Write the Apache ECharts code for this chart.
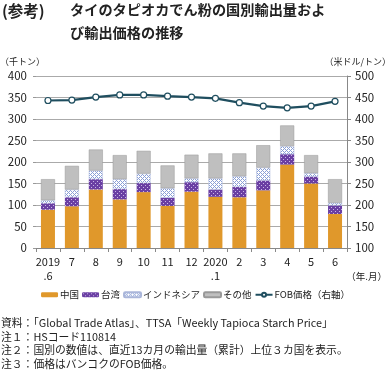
<!DOCTYPE html>
<html><head><meta charset="utf-8">
<script src="https://cdn.jsdelivr.net/npm/echarts@6/dist/echarts.min.js"></script>
<style>html,body{margin:0;padding:0;background:#fff}#c{width:391px;height:370px}</style>
</head><body><div id="c"></div>
<script>
const categories = ['2019\n.6','7','8','9','10','11','12','2020\n.1','2','3','4','5','6'];
const china = [89,97,136,113,130,98,131,119,118,134,194,150,79];
const taiwan = [15,21,24,24,21,19,22,17,24,23,24,16,20];
const indonesia = [7,18,20,23,22,22,9,26,25,30,19,8,6];
const other = [49,55,49,56,53,53,55,58,53,52,48,42,55];
const fobPrice = [443,444,451,456,456,453,451,448,438,430,426,430,441];

function dotPattern(){
  const c=document.createElement('canvas');c.width=4;c.height=4;
  const g=c.getContext('2d');g.fillStyle='#6a3fa3';g.fillRect(0,0,4,4);
  g.fillStyle='#c9b6e6';g.fillRect(1,1,1,1);g.fillRect(3,3,1,1);
  return c;
}
function hatchPattern(){
  const c=document.createElement('canvas');c.width=4;c.height=4;
  const g=c.getContext('2d');g.fillStyle='#ffffff';g.fillRect(0,0,4,4);
  g.fillStyle='#8a9fd6';
  g.fillRect(0,0,1,1);g.fillRect(1,1,1,1);g.fillRect(2,2,1,1);g.fillRect(3,3,1,1);
  g.fillRect(3,1,1,1);g.fillRect(1,3,1,1);
  return c;
}
const chart = echarts.init(document.getElementById('c'), null, {renderer:'canvas'});
const font = '"Noto Sans CJK JP","Noto Sans",sans-serif';
const barW = 14;
function t(text, pos, size, weight, extra){
  return Object.assign({text:text, padding:0, textStyle:Object.assign({fontSize:size, fontWeight:weight||'normal', color:'#222', fontFamily:font}, extra||{})}, pos);
}
chart.setOption({
  animation:false,
  textStyle:{fontFamily:font},
  title:[
    t('(参考)', {left:2, top:3}, 15.5, 'bold'),
    t('タイのタピオカでん粉の国別輸出量およ', {left:70, top:3}, 14.2, 'bold'),
    t('び輸出価格の推移', {left:70, top:26}, 14.2, 'bold'),
    t('（千トン）', {left:0, top:57}, 9),
    t('（米ドル/トン）', {right:0, top:57}, 9),
    t('（年.月）', {right:4, top:272}, 9.5),
    t('資料：「Global Trade Atlas」、TTSA「Weekly Tapioca Starch Price」\n注１：HSコード110814\n注２：国別の数値は、直近13カ月の輸出量（累計）上位３カ国を表示。\n注３：価格はバンコクのFOB価格。',
      {left:1, top:316}, 10.8, 'normal', {lineHeight:13.7})
  ],
  legend:{
    top:290, left:'center', itemGap:3, itemWidth:17, itemHeight:5, padding:0,
    textStyle:{fontSize:9.5, color:'#222', fontFamily:font, padding:[0,0,0,-3]},
    data:['中国','台湾','インドネシア','その他',{name:'FOB価格（右軸）', itemStyle:{color:'#fff', borderColor:'#1f4e5f'}}]
  },
  grid:{left:36, right:44, top:76, bottom:122},
  xAxis:{
    type:'category', data:categories,
    axisLine:{lineStyle:{color:'#888'}},
    axisTick:{show:true, length:4, lineStyle:{color:'#888'}},
    axisLabel:{interval:0, fontSize:11, color:'#222', margin:7, lineHeight:14, fontFamily:font}
  },
  yAxis:[
    {type:'value', min:0, max:400, interval:50,
     axisLine:{show:false}, axisTick:{show:true, length:3, lineStyle:{color:'#999'}},
     splitLine:{lineStyle:{color:'#aaa'}},
     axisLabel:{fontSize:11.5, color:'#222', margin:9, fontFamily:font}},
    {type:'value', min:100, max:500, interval:50,
     axisLine:{show:true, lineStyle:{color:'#888'}}, axisTick:{show:true, length:4, lineStyle:{color:'#888'}},
     splitLine:{show:false},
     axisLabel:{fontSize:11.5, color:'#222', margin:8, fontFamily:font}}
  ],
  series:[
    {name:'中国', type:'bar', stack:'s', data:china, barWidth:barW, itemStyle:{color:'#e0982b'}},
    {name:'台湾', type:'bar', stack:'s', data:taiwan, barWidth:barW, itemStyle:{color:{image:dotPattern(), repeat:'repeat'}}},
    {name:'インドネシア', type:'bar', stack:'s', data:indonesia, barWidth:barW, itemStyle:{color:{image:hatchPattern(), repeat:'repeat'}, borderColor:'#aab6da', borderWidth:0.5}},
    {name:'その他', type:'bar', stack:'s', data:other, barWidth:barW, itemStyle:{color:'#bfbfbf', borderColor:'#999', borderWidth:0.5}},
    {name:'FOB価格（右軸）', type:'line', yAxisIndex:1, data:fobPrice, symbol:'circle', symbolSize:6,
     lineStyle:{color:'#1f4e5f', width:2.2}, itemStyle:{color:'#fff', borderColor:'#1f4e5f', borderWidth:1.2}, z:5}
  ]
});
</script></body></html>
